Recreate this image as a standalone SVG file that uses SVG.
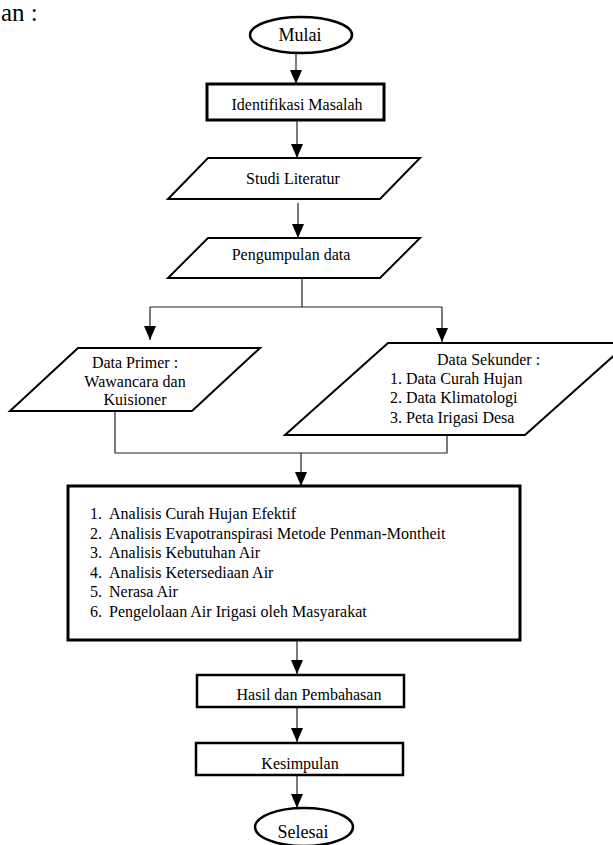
<svg xmlns="http://www.w3.org/2000/svg" width="613" height="845" viewBox="0 0 613 845">
<style>
text{font-family:"Liberation Serif","Times New Roman",serif;font-size:16px;fill:#000}
.c{text-anchor:middle}
.big{font-size:18px}
.shape{fill:#fff;stroke:#000;stroke-width:2.5}
.thick{stroke-width:3}
.ln{fill:none;stroke:#222;stroke-width:1.2}
</style>
<defs>
<marker id="ah" viewBox="0 0 14 12" refX="14" refY="6" markerWidth="14" markerHeight="12" markerUnits="userSpaceOnUse" orient="auto">
<path d="M0,0 L14,6 L0,12 Z" fill="#000"/>
</marker>
</defs>
<rect width="613" height="845" fill="#fff"/>
<text x="1" y="21" style="font-size:25px">an :</text>

<g id="connectors">
<path class="ln" d="M296,53 V84" marker-end="url(#ah)"/>
<path class="ln" d="M297,120 V158" marker-end="url(#ah)"/>
<path class="ln" d="M298,203 V238" marker-end="url(#ah)"/>
<path class="ln" d="M302,278 V307"/>
<path class="ln" d="M150,307 H442"/>
<path class="ln" d="M150,307 V340" marker-end="url(#ah)"/>
<path class="ln" d="M442,307 V342" marker-end="url(#ah)"/>
<path class="ln" d="M115,411 V453 H447 V435"/>
<path class="ln" d="M301,453 V486" marker-end="url(#ah)"/>
<path class="ln" d="M297,640 V674" marker-end="url(#ah)"/>
<path class="ln" d="M297,708 V742" marker-end="url(#ah)"/>
<path class="ln" d="M297,776 V808" marker-end="url(#ah)"/>
</g>

<g id="mulai">
<ellipse class="shape" cx="301" cy="35" rx="51" ry="18"/>
<text class="c big" x="300" y="41">Mulai</text>
</g>

<g id="identifikasi">
<rect class="shape thick" x="207" y="84" width="177" height="36"/>
<text class="c" x="297" y="110">Identifikasi Masalah</text>
</g>

<g id="studi">
<polygon class="shape" points="208,158 420,158 380,199 168,199" style="stroke-width:2"/>
<text class="c" x="293" y="184">Studi Literatur</text>
</g>

<g id="pengumpulan">
<polygon class="shape" points="208,238 420,238 380,278 168,278" style="stroke-width:2"/>
<text class="c" x="291" y="260">Pengumpulan data</text>
</g>

<g id="primer">
<polygon class="shape" points="78,348 260,348 192,411 10,411" style="stroke-width:2"/>
<text class="c" x="135" y="368">Data Primer :</text>
<text class="c" x="135" y="387">Wawancara dan</text>
<text class="c" x="135" y="405">Kuisioner</text>
</g>

<g id="sekunder">
<polygon class="shape" points="388,343 628,343 525,435 285,435" style="stroke-width:2"/>
<text x="437" y="365">Data Sekunder :</text>
<text x="390" y="384">1. Data Curah Hujan</text>
<text x="390" y="403">2. Data Klimatologi</text>
<text x="390" y="423">3. Peta Irigasi Desa</text>
</g>

<g id="analisis">
<rect class="shape thick" x="68" y="486" width="452" height="154"/>
<text x="90" y="519">1.</text><text x="109" y="519">Analisis Curah Hujan Efektif</text>
<text x="90" y="539">2.</text><text x="109" y="539">Analisis Evapotranspirasi Metode Penman-Montheit</text>
<text x="90" y="558">3.</text><text x="109" y="558">Analisis Kebutuhan Air</text>
<text x="90" y="578">4.</text><text x="109" y="578">Analisis Ketersediaan Air</text>
<text x="90" y="597">5.</text><text x="109" y="597">Nerasa Air</text>
<text x="90" y="617">6.</text><text x="109" y="617">Pengelolaan Air Irigasi oleh Masyarakat</text>
</g>

<g id="hasil">
<rect class="shape" x="197" y="675" width="207" height="32"/>
<text class="c" x="309" y="700">Hasil dan Pembahasan</text>
</g>

<g id="kesimpulan">
<rect class="shape" x="196" y="743" width="207" height="32"/>
<text class="c" x="300" y="769">Kesimpulan</text>
</g>

<g id="selesai">
<ellipse class="shape" cx="304" cy="827" rx="49" ry="19"/>
<text class="c big" x="303" y="838">Selesai</text>
</g>
</svg>
